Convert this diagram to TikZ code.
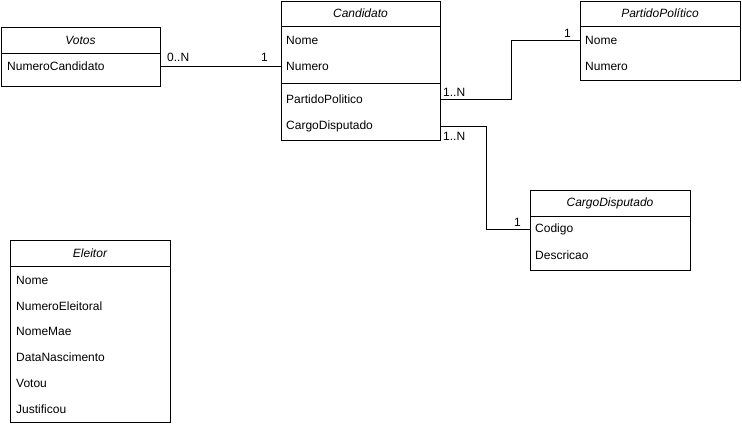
\documentclass[tikz,border=0pt]{standalone}
\usepackage{fontspec}
\setmainfont{Liberation Sans}
\usetikzlibrary{positioning}
\tikzset{
  umlbox/.style={draw, line width=1pt, anchor=north west, inner sep=0pt},
  umlhead/.style={font=\fontsize{12}{14}\selectfont\itshape, inner sep=0pt},
  umlattr/.style={anchor=west, inner sep=0pt, font=\fontsize{12}{14}\selectfont},
  mult/.style={inner sep=0pt, font=\fontsize{12}{14}\selectfont},
  assoc/.style={line width=1pt},
}

\begin{document}
\begin{tikzpicture}[x=1pt,y=-1pt]
  \useasboundingbox[fill=white] (0,0) rectangle (742,426);
  % Votos
  \node[umlbox, minimum width=159, minimum height=59] (votos) at (1,27) {};
  \draw[assoc] (1,53) -- (160,53);
  \node[umlhead] (votos-head) at (80.5,40) {Votos};
  \node[umlattr] (votos-num) at (7,66) {NumeroCandidato};
  % Candidato
  \node[umlbox, minimum width=159, minimum height=139] (cand) at (281,1) {};
  \draw[assoc] (281,26) -- (440,26);
  \draw[assoc] (281,83) -- (440,83);
  \node[umlhead] (cand-head) at (360.5,13.5) {Candidato};
  \node[umlattr] (cand-nome) at (286,40) {Nome};
  \node[umlattr] (cand-numero) at (286,66) {Numero};
  \node[umlattr] (cand-partido) at (286,99.5) {PartidoPolitico};
  \node[umlattr] (cand-cargo) at (286,126) {CargoDisputado};
  % PartidoPolitico
  \node[umlbox, minimum width=160, minimum height=79] (partido) at (580,1) {};
  \draw[assoc] (580,26) -- (740,26);
  \node[umlhead] (partido-head) at (660,13.5) {PartidoPolítico};
  \node[umlattr] (partido-nome) at (585,40) {Nome};
  \node[umlattr] (partido-numero) at (585,66) {Numero};
  % CargoDisputado
  \node[umlbox, minimum width=160, minimum height=80] (cargo) at (530,190) {};
  \draw[assoc] (530,216) -- (690,216);
  \node[umlhead] (cargo-head) at (610,203) {CargoDisputado};
  \node[umlattr] (cargo-codigo) at (535,229) {Codigo};
  \node[umlattr] (cargo-desc) at (535,255) {Descricao};
  % Eleitor
  \node[umlbox, minimum width=160, minimum height=182] (eleitor) at (10,240) {};
  \draw[assoc] (10,266) -- (170,266);
  \node[umlhead] (eleitor-head) at (90,253.5) {Eleitor};
  \foreach \i/\t in {0/Nome,1/NumeroEleitoral,2/NomeMae,3/DataNascimento,4/Votou,5/Justificou}
    \node[umlattr] (eleitor-\i) at (16,280+25.8*\i) {\t};
  % associations
  \draw[assoc] (votos.east |- votos-num) -- (cand.west |- votos-num);
  \node[mult, anchor=west] (m-votos) at (167,57) {0..N};
  \node[mult, anchor=east] (m-cand1) at (268,57) {1};
  \draw[assoc] (cand.east |- cand-partido) -- ++(70,0) |- (partido.west |- partido-nome);
  \node[mult, anchor=west] (m-partido1) at (443,92) {1..N};
  \node[mult, anchor=east] (m-partido2) at (571,33) {1};
  \draw[assoc] (cand.east |- cand-cargo) -- ++(45,0) |- (cargo.west |- cargo-codigo);
  \node[mult, anchor=west] (m-cargo1) at (443,136) {1..N};
  \node[mult, anchor=east] (m-cargo2) at (521,222) {1};
\end{tikzpicture}
\end{document}
